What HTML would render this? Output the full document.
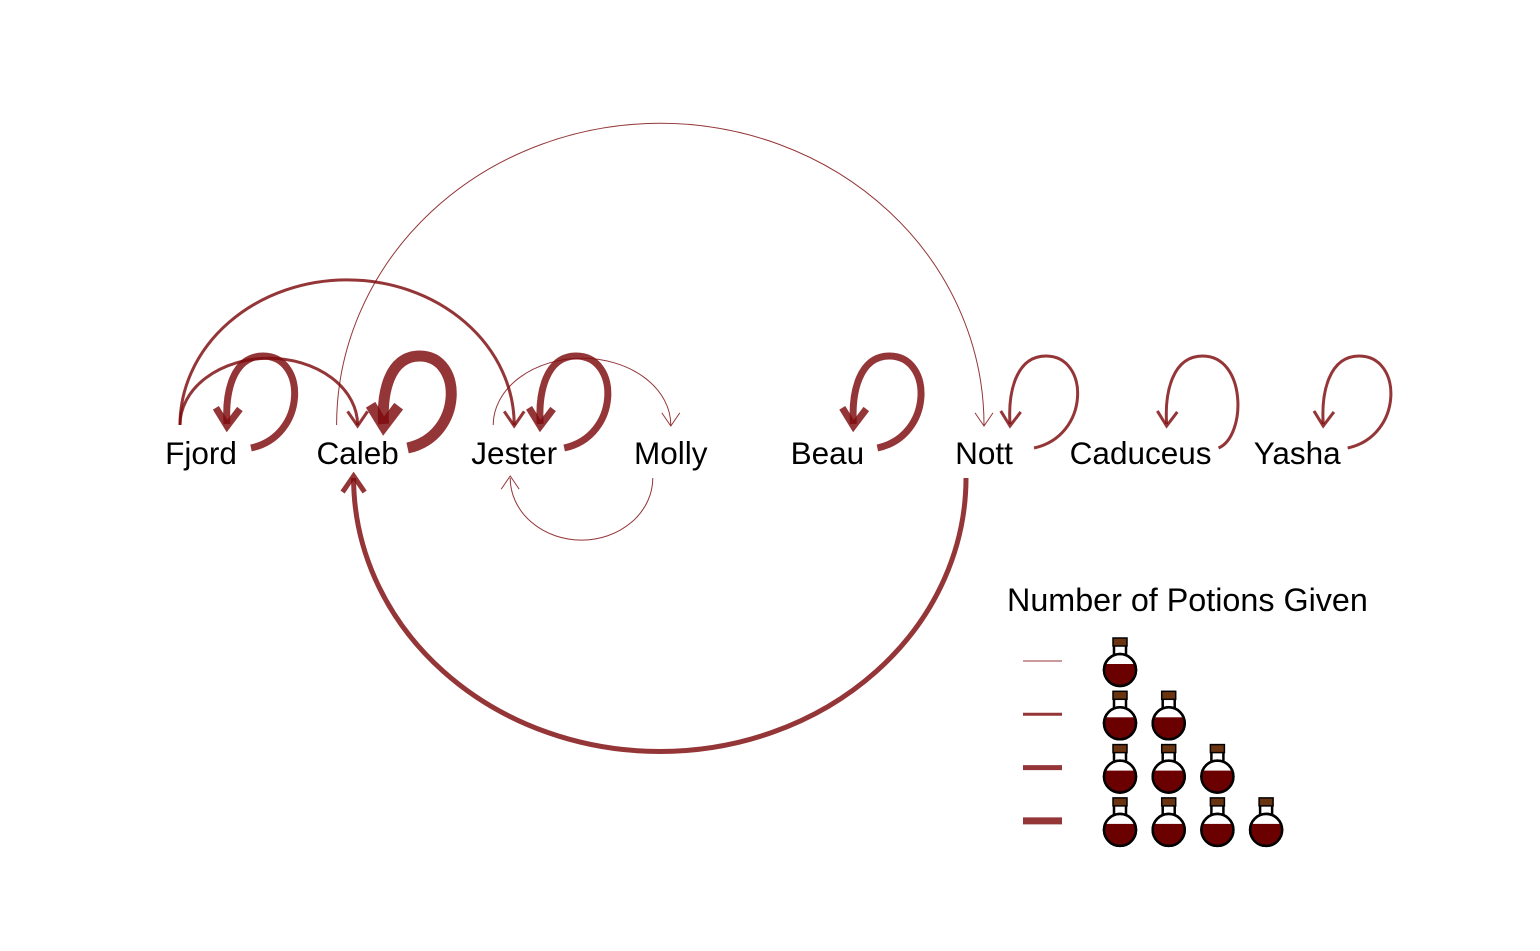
<!DOCTYPE html>
<html><head><meta charset="utf-8"><style>
html,body{margin:0;padding:0;background:#fff;}
svg{display:block;font-family:"Liberation Sans",Arial,sans-serif;}
</style></head><body>
<svg id="chart" width="1540" height="951" viewBox="0 0 1540 951" xmlns="http://www.w3.org/2000/svg">
<defs>
<clipPath id="bodyclip"><circle cx="0" cy="9" r="15"/></clipPath>
</defs>
<g id="edges"></g>
<g id="nodes"></g>
<g id="legend">
<text x="1007" y="611" font-size="32.3" fill="#000">Number of Potions Given</text>
</g>
</svg>
<script>
const nodeNames = ["Fjord","Caleb","Jester","Molly","Beau","Nott","Caduceus","Yasha"];
const edgeFrom = ["Fjord","Fjord","Caleb","Jester","Molly","Nott"];
const edgeTo   = ["Caleb","Jester","Nott","Molly","Jester","Caleb"];
const edgeCount= [2,2,1,1,1,3];
const loopNodes = ["Fjord","Caleb","Jester","Beau","Nott","Caduceus","Yasha"];
const loopCount = [4,6,4,4,2,2,2];
const legendCounts = [1,2,3,4];

const NS="http://www.w3.org/2000/svg";
const COL="rgba(125,10,12,0.82)";
const x0=201, step=156.6, labelY=464;
function xPos(name){return x0+nodeNames.indexOf(name)*step;}
function widthOf(c){return c*2-1;}
function mk(tag,attrs,parent){const e=document.createElementNS(NS,tag);for(const k in attrs)e.setAttribute(k,attrs[k]);parent.appendChild(e);return e;}

const nodesG=document.getElementById('nodes');
const edgesG=document.getElementById('edges');
const labelRight={};
nodeNames.forEach(n=>{
  const t=mk('text',{x:xPos(n),y:labelY,'text-anchor':'middle','font-size':31.5,fill:'#000'},nodesG);
  
  
  t.textContent=n;
  labelRight[n]=xPos(n)+t.getComputedTextLength()/2;
});

function arrow(tx,ty,dir,w,parent,name){
  const L=15+w*0.9, a=0.6;
  const bx=-Math.cos(dir), by=-Math.sin(dir);
  const p1=[tx+L*(bx*Math.cos(a)-by*Math.sin(a)), ty+L*(bx*Math.sin(a)+by*Math.cos(a))];
  const p2=[tx+L*(bx*Math.cos(-a)-by*Math.sin(-a)), ty+L*(bx*Math.sin(-a)+by*Math.cos(-a))];
  const p=mk('path',{d:`M${p1[0]},${p1[1]} L${tx},${ty} L${p2[0]},${p2[1]}`,fill:'none',stroke:COL,'stroke-width':w,'stroke-linejoin':'miter','stroke-linecap':'butt'},parent);
  
  
}

edgeFrom.forEach((f,i)=>{
  const t=edgeTo[i], w=widthOf(edgeCount[i]);
  const xs=xPos(f), xt=xPos(t);
  const g=mk('g',{},edgesG);
  
  
  if(xt>xs){
    const a=xs-21, b=xt, y=425, rx=(b-a)/2, ry=rx-22;
    mk('path',{d:`M${a},${y} A${rx},${ry} 0 0 1 ${b},${y}`,fill:'none',stroke:COL,'stroke-width':w},g);
    arrow(b,y+1,Math.PI/2,w,g,'edge-arrowhead');
  } else {
    const a=xs-18, b=xt-4, y=478, rx=(a-b)/2, ry=rx*0.9-2;
    mk('path',{d:`M${a},${y} A${rx},${ry} 0 0 1 ${b},${y}`,fill:'none',stroke:COL,'stroke-width':w},g);
    arrow(b,y-2,-Math.PI/2,w,g,'edge-arrowhead');
  }
});

loopNodes.forEach((n,i)=>{
  const x=xPos(n), w=widthOf(loopCount[i]);
  const g=mk('g',{},edgesG);
  
  
  const tail=Math.max(x+50,labelRight[n]+7);
  mk('path',{d:`M${tail},${448} C${x+106},${436} ${x+106},${356} ${x+62},${356} C${x+32},${356} ${x+24},${392} ${x+26},${424}`,fill:'none',stroke:COL,'stroke-width':w},g);
  arrow(x+26,426,Math.PI/2+0.05,w,g,'loop-arrowhead');
});

const legG=document.getElementById('legend');
const legY0=661, legDy=53.3, potDx=48.7;
legendCounts.forEach((c,r)=>{
  const y=legY0+r*legDy;
  const ln=mk('line',{x1:1023,x2:1062,y1:y,y2:y,stroke:COL,'stroke-width':widthOf(c)},legG);
  
  
  for(let k=0;k<c;k++){
    const cx=1120+k*potDx;
    const g=mk('g',{transform:`translate(${cx},${y})`},legG);
    
    
    mk('rect',{x:-6,y:-16,width:12,height:12,fill:'#fff',stroke:'#000','stroke-width':2.5},g);
    mk('circle',{cx:0,cy:9,r:16,fill:'#fff',stroke:'#000','stroke-width':2.5},g);
    mk('rect',{x:-17,y:3,width:34,height:24,fill:'#6b0000','clip-path':'url(#bodyclip)'},g);
    mk('circle',{cx:0,cy:9,r:16,fill:'none',stroke:'#000','stroke-width':2.5},g);
    mk('rect',{x:-7,y:-23,width:14,height:8,fill:'#6b3410',stroke:'#000','stroke-width':1.5},g);
  }
});
</script>
</body></html>
